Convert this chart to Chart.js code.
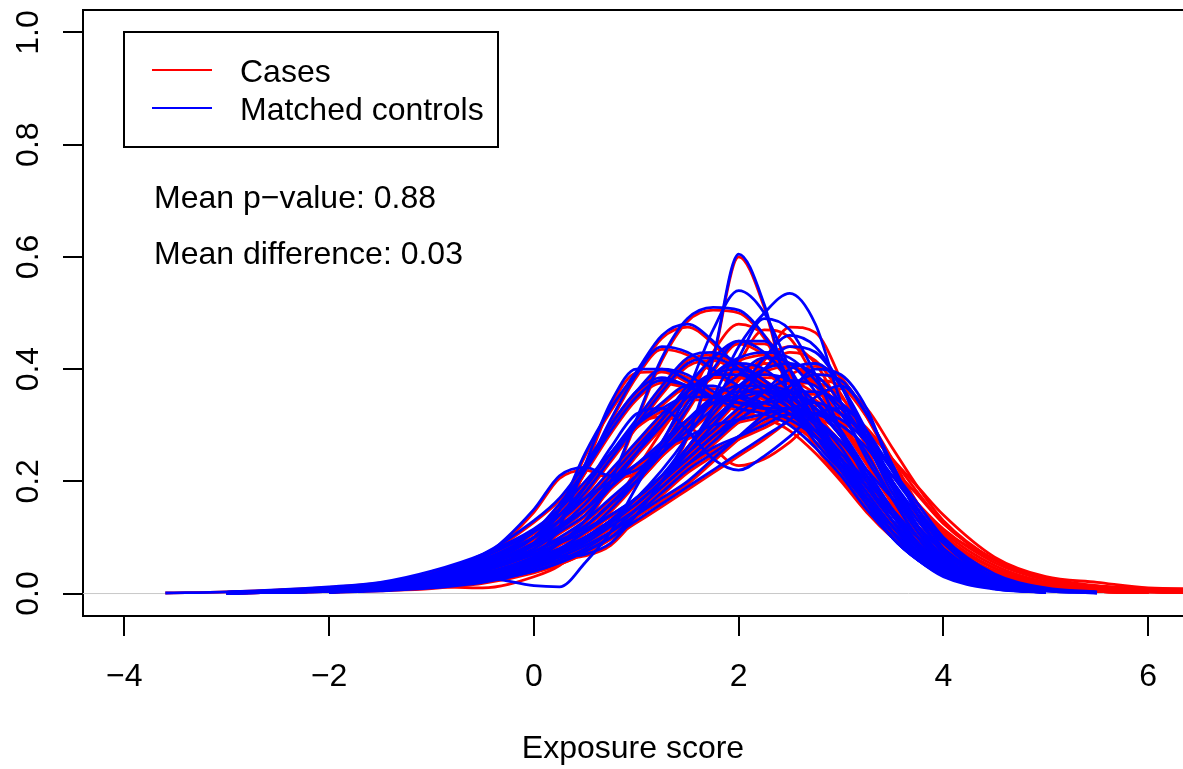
<!DOCTYPE html>
<html>
<head>
<meta charset="utf-8">
<script src="https://cdn.jsdelivr.net/npm/chart.js@4.4.1/dist/chart.umd.min.js"></script>
<style>
  html, body { margin: 0; padding: 0; background: #fff; }
</style>
</head>
<body>
<canvas id="densityChart" width="1183" height="769"></canvas>
<script>
let xGrid = [-3.6, -3, -2, -1.5, -1, -0.5, 0, 0.25, 0.5, 0.75, 1, 1.25, 1.5, 1.75, 2, 2.25, 2.5, 2.75, 3, 3.25, 3.5, 3.75, 4, 4.5, 5, 5.5, 6, 6.5];

// cases (red), one row per curve; row i goes with controlCurves[i]
let casesCurves = [
  [null,null,0.003,0.008,0.019,0.038, 0.072,0.092,0.112,0.137, 0.167,0.207,0.277,0.416, 0.6,0.51,0.345,0.262, 0.205,0.155,0.1,0.068, 0.048,0.025,0.011,0.005,0.003,null],
  [null,0.001,0.005,0.01,0.019,0.038, 0.067,0.087,0.117,0.157, 0.205,0.26,0.34,0.43, 0.48,0.46,0.39,0.3, 0.21,0.15,0.1,0.07, 0.05,0.025,0.012,0.006,0.003,null],
  [null,0.001,0.006,0.012,0.024,0.048, 0.087,0.125,0.18,0.245, 0.3,0.315,0.3,0.26, 0.228,0.24,0.27,0.31, 0.32,0.28,0.2,0.13, 0.08,0.03,0.012,0.005,0.002,null],
  [null,0.001,0.005,0.01,0.019,0.033, 0.062,0.115,0.222,0.333, 0.393,0.395,0.376,0.346, 0.325,0.313,0.29,0.25, 0.2,0.145,0.1,0.065, 0.04,0.018,0.007,0.003,null,null],
  [null,0.002,0.008,0.015,0.03,0.062, 0.145,0.205,0.22,0.206, 0.215,0.255,0.305,0.345, 0.365,0.365,0.345,0.3, 0.24,0.175,0.125,0.085, 0.06,0.028,0.01,0.004,0.002,null],
  [null,0.001,0.005,0.008,0.012,0.01, 0.03,0.05,0.09,0.15, 0.22,0.29,0.35,0.39, 0.415,0.425,0.41,0.37, 0.3,0.23,0.16,0.1, 0.065,0.028,0.01,0.004,0.002,null],
  [null,null,0.004,0.009,0.017,0.033, 0.057,0.077,0.097,0.127, 0.165,0.21,0.26,0.32, 0.38,0.42,0.44,0.41, 0.33,0.24,0.17,0.11, 0.07,0.03,0.012,0.005,0.002,null],
  [null,0.001,0.005,0.01,0.019,0.038, 0.086,0.145,0.245,0.325, 0.39,0.455,0.475,0.445, 0.395,0.355,0.325,0.28, 0.225,0.165,0.11,0.07, 0.045,0.02,0.008,0.003,null,null],
  [null,0.001,0.004,0.008,0.015,0.028, 0.057,0.087,0.126,0.196, 0.305,0.415,0.485,0.505, 0.5,0.455,0.37,0.285, 0.21,0.15,0.1,0.065, 0.04,0.018,0.007,0.003,null,null],
  [null,null,0.004,0.008,0.015,0.028, 0.052,0.072,0.097,0.127, 0.166,0.205,0.255,0.325, 0.41,0.47,0.455,0.38, 0.28,0.195,0.13,0.085, 0.055,0.022,0.009,0.004,0.002,null],
  [null,0.001,0.007,0.014,0.028,0.057, 0.097,0.127,0.166,0.216, 0.265,0.315,0.355,0.385, 0.395,0.38,0.345,0.3, 0.245,0.185,0.13,0.09, 0.06,0.03,0.013,0.006,0.003,0.002],
  [null,null,0.004,0.009,0.017,0.033, 0.062,0.087,0.117,0.156, 0.196,0.245,0.295,0.345, 0.385,0.41,0.405,0.375, 0.31,0.235,0.165,0.11, 0.07,0.035,0.016,0.008,0.004,0.002],
  [0.001,0.003,0.011,0.019,0.038,0.067, 0.11,0.145,0.195,0.245, 0.295,0.335,0.365,0.365, 0.345,0.325,0.305,0.27, 0.23,0.185,0.14,0.1, 0.07,0.035,0.016,0.008,0.004,null],
  [null,null,0.003,0.007,0.013,0.026, 0.052,0.072,0.097,0.126, 0.156,0.195,0.235,0.275, 0.315,0.355,0.39,0.405, 0.385,0.315,0.23,0.15, 0.095,0.04,0.016,0.007,0.003,0.001],
  [null,0.001,0.006,0.011,0.024,0.048, 0.087,0.117,0.147,0.186, 0.226,0.266,0.305,0.335, 0.355,0.355,0.335,0.305, 0.265,0.22,0.18,0.14, 0.11,0.06,0.028,0.014,0.009,0.008],
  [null,0.001,0.006,0.012,0.026,0.052, 0.097,0.146,0.215,0.295, 0.355,0.395,0.385,0.355, 0.335,0.335,0.345,0.33, 0.28,0.21,0.145,0.095, 0.065,0.028,0.011,0.005,0.002,null],
  [null,null,0.005,0.01,0.019,0.038, 0.067,0.087,0.107,0.137, 0.166,0.205,0.245,0.285, 0.325,0.355,0.375,0.375, 0.35,0.29,0.22,0.16, 0.11,0.05,0.02,0.009,0.004,0.002],
  [null,null,0.003,0.006,0.011,0.02, 0.038,0.052,0.072,0.097, 0.136,0.175,0.215,0.245, 0.275,0.305,0.325,0.335, 0.32,0.29,0.24,0.19, 0.14,0.065,0.03,0.02,0.01,0.008],
  [null,0.001,0.004,0.007,0.015,0.028, 0.052,0.062,0.067,0.086, 0.135,0.195,0.255,0.315, 0.365,0.395,0.405,0.38, 0.33,0.265,0.2,0.135, 0.085,0.035,0.013,0.005,0.002,null],
  [null,null,0.002,0.005,0.009,0.018, 0.037,0.052,0.072,0.097, 0.126,0.155,0.185,0.215, 0.245,0.275,0.31,0.35, 0.365,0.33,0.26,0.19, 0.13,0.06,0.025,0.01,0.005,0.003],
  [null,0.001,0.005,0.01,0.021,0.043, 0.077,0.107,0.137,0.186, 0.245,0.305,0.365,0.415, 0.445,0.425,0.38,0.325, 0.26,0.19,0.13,0.09, 0.06,0.025,0.009,0.004,0.002,null],
  [null,null,0.003,0.006,0.011,0.022, 0.042,0.062,0.082,0.107, 0.136,0.165,0.195,0.235, 0.275,0.315,0.355,0.39, 0.38,0.32,0.23,0.16, 0.1,0.045,0.018,0.008,0.004,0.002],
  [null,0.002,0.01,0.017,0.033,0.062, 0.107,0.137,0.166,0.196, 0.226,0.255,0.275,0.295, 0.305,0.315,0.325,0.315, 0.29,0.255,0.21,0.16, 0.115,0.055,0.024,0.011,0.007,0.006],
  [null,0.001,0.007,0.013,0.027,0.052, 0.097,0.137,0.186,0.245, 0.305,0.365,0.415,0.425, 0.405,0.375,0.345,0.305, 0.255,0.195,0.14,0.095, 0.062,0.026,0.01,0.004,0.002,null],
  [null,0.001,0.006,0.011,0.02,0.035, 0.058,0.078,0.098,0.128, 0.167,0.207,0.247,0.296, 0.355,0.415,0.475,0.465, 0.38,0.26,0.17,0.11, 0.07,0.028,0.011,0.005,0.002,null],
  [null,0.002,0.009,0.017,0.034,0.067, 0.127,0.166,0.225,0.295, 0.355,0.38,0.365,0.345, 0.335,0.325,0.305,0.27, 0.22,0.165,0.115,0.075, 0.05,0.022,0.009,0.004,0.002,null],
  [null,null,0.004,0.008,0.015,0.028, 0.057,0.077,0.097,0.126, 0.156,0.195,0.235,0.275, 0.305,0.335,0.355,0.355, 0.335,0.295,0.24,0.18, 0.125,0.06,0.025,0.011,0.006,0.004],
  [null,0.001,0.006,0.011,0.024,0.048, 0.087,0.126,0.176,0.235, 0.295,0.355,0.405,0.415, 0.395,0.365,0.32,0.27, 0.215,0.165,0.12,0.085, 0.06,0.028,0.011,0.005,0.002,null],
  [null,0.001,0.005,0.01,0.019,0.038, 0.072,0.097,0.127,0.166, 0.206,0.245,0.285,0.325, 0.365,0.385,0.38,0.355, 0.3,0.235,0.165,0.11, 0.07,0.032,0.013,0.006,0.003,0.001],
  [null,0.001,0.004,0.008,0.016,0.033, 0.062,0.087,0.117,0.156, 0.196,0.245,0.295,0.335, 0.345,0.335,0.315,0.285, 0.245,0.2,0.155,0.115, 0.08,0.04,0.018,0.009,0.005,0.003],
  [null,null,0.003,0.007,0.013,0.026, 0.047,0.067,0.092,0.121, 0.156,0.195,0.245,0.295, 0.345,0.395,0.43,0.415, 0.355,0.27,0.19,0.12, 0.075,0.03,0.012,0.005,0.002,null],
  [null,0.002,0.008,0.015,0.03,0.057, 0.107,0.156,0.215,0.285, 0.345,0.375,0.365,0.345, 0.345,0.355,0.35,0.32, 0.265,0.2,0.14,0.095, 0.065,0.03,0.012,0.005,0.002,null],
  [null,0.001,0.006,0.011,0.023,0.046, 0.082,0.112,0.147,0.196, 0.245,0.295,0.345,0.385, 0.405,0.395,0.355,0.295, 0.22,0.155,0.105,0.07, 0.05,0.024,0.01,0.004,0.002,null],
  [null,null,0.003,0.006,0.011,0.023, 0.047,0.067,0.092,0.126, 0.166,0.205,0.255,0.305, 0.345,0.365,0.36,0.345, 0.3,0.245,0.18,0.12, 0.078,0.035,0.015,0.007,0.004,0.002],
  [null,0.001,0.007,0.013,0.027,0.052, 0.097,0.146,0.215,0.305, 0.385,0.435,0.425,0.395, 0.365,0.345,0.315,0.27, 0.22,0.165,0.115,0.075, 0.05,0.022,0.009,0.004,0.002,null],
  [null,null,0.003,0.007,0.013,0.026, 0.047,0.067,0.087,0.116, 0.146,0.185,0.225,0.265, 0.305,0.335,0.365,0.38, 0.37,0.315,0.24,0.16, 0.105,0.045,0.018,0.008,0.004,0.002],
  [null,0.002,0.008,0.014,0.029,0.055, 0.097,0.137,0.186,0.245, 0.295,0.325,0.345,0.345, 0.335,0.325,0.325,0.3, 0.26,0.205,0.155,0.105, 0.07,0.03,0.012,0.005,0.002,null],
  [null,null,0.004,0.008,0.015,0.03, 0.057,0.077,0.107,0.146, 0.196,0.255,0.325,0.395, 0.445,0.445,0.395,0.31, 0.23,0.165,0.115,0.075, 0.05,0.022,0.009,0.004,0.002,null],
  [null,null,0.003,0.006,0.011,0.022, 0.042,0.057,0.077,0.106, 0.146,0.185,0.225,0.255, 0.275,0.295,0.315,0.315, 0.305,0.275,0.225,0.175, 0.125,0.06,0.026,0.013,0.008,0.007],
  [null,0.001,0.006,0.011,0.024,0.047, 0.087,0.117,0.156,0.205, 0.255,0.305,0.355,0.385, 0.385,0.365,0.345,0.315, 0.27,0.21,0.15,0.1, 0.065,0.028,0.011,0.005,0.002,null]
];

// matched controls (blue)
let controlCurves = [
  [null,null,0.003,0.008,0.02,0.04, 0.075,0.095,0.115,0.14, 0.17,0.21,0.28,0.42, 0.605,0.515,0.35,0.27, 0.22,0.17,0.11,0.065, 0.035,0.01,0.003,null,null,null],
  [null,0.001,0.005,0.01,0.02,0.04, 0.07,0.09,0.12,0.16, 0.21,0.27,0.36,0.47, 0.54,0.5,0.4,0.3, 0.22,0.16,0.1,0.06, 0.035,0.012,0.004,null,null,null],
  [null,0.001,0.006,0.012,0.025,0.05, 0.09,0.13,0.19,0.26, 0.32,0.33,0.29,0.24, 0.22,0.245,0.28,0.32, 0.33,0.29,0.2,0.12, 0.06,0.015,0.004,null,null,null],
  [null,0.001,0.005,0.01,0.02,0.035, 0.065,0.12,0.23,0.34, 0.4,0.4,0.38,0.35, 0.33,0.32,0.3,0.26, 0.21,0.15,0.1,0.06, 0.03,0.008,0.002,null,null,null],
  [null,0.002,0.008,0.016,0.032,0.065, 0.15,0.21,0.225,0.21, 0.22,0.26,0.31,0.35, 0.37,0.37,0.35,0.31, 0.26,0.19,0.13,0.08, 0.045,0.012,0.003,null,null,null],
  [null,0.001,0.006,0.012,0.02,0.028, 0.014,0.012,0.055,0.11, 0.19,0.27,0.34,0.39, 0.42,0.43,0.42,0.38, 0.32,0.25,0.17,0.1, 0.055,0.015,0.004,null,null,null],
  [null,null,0.004,0.009,0.018,0.035, 0.06,0.08,0.1,0.13, 0.17,0.22,0.28,0.35, 0.44,0.5,0.535,0.48, 0.34,0.24,0.17,0.1, 0.055,0.015,0.004,null,null,null],
  [null,0.001,0.005,0.01,0.02,0.04, 0.09,0.15,0.25,0.33, 0.395,0.46,0.48,0.45, 0.4,0.36,0.33,0.29, 0.24,0.18,0.12,0.07, 0.04,0.01,0.003,null,null,null],
  [null,0.001,0.004,0.008,0.016,0.03, 0.06,0.09,0.13,0.2, 0.31,0.42,0.49,0.51, 0.505,0.46,0.38,0.3, 0.23,0.16,0.1,0.06, 0.032,0.009,0.002,null,null,null],
  [null,null,0.004,0.008,0.016,0.03, 0.055,0.075,0.1,0.13, 0.17,0.21,0.26,0.33, 0.42,0.49,0.47,0.39, 0.29,0.2,0.13,0.075, 0.04,0.01,0.003,null,null,null],
  [null,0.001,0.007,0.015,0.03,0.06, 0.1,0.13,0.17,0.22, 0.27,0.32,0.36,0.39, 0.4,0.38,0.34,0.28, 0.22,0.16,0.11,0.07, 0.04,0.012,0.003,null,null,null],
  [null,null,0.004,0.009,0.018,0.035, 0.065,0.09,0.12,0.16, 0.2,0.25,0.3,0.35, 0.39,0.42,0.41,0.36, 0.29,0.21,0.14,0.085, 0.048,0.014,0.004,null,null,null],
  [0.001,0.003,0.012,0.02,0.04,0.07, 0.115,0.15,0.2,0.25, 0.3,0.34,0.37,0.37, 0.35,0.33,0.31,0.28, 0.24,0.19,0.14,0.09, 0.055,0.018,0.005,0.001,null,null],
  [null,null,0.003,0.007,0.014,0.028, 0.055,0.075,0.1,0.13, 0.16,0.2,0.24,0.28, 0.32,0.36,0.4,0.41, 0.37,0.29,0.2,0.12, 0.065,0.018,0.005,null,null,null],
  [null,0.001,0.006,0.012,0.025,0.05, 0.09,0.12,0.15,0.19, 0.23,0.27,0.31,0.34, 0.36,0.36,0.34,0.31, 0.27,0.22,0.17,0.12, 0.075,0.025,0.007,0.002,null,null],
  [null,0.001,0.006,0.013,0.028,0.055, 0.1,0.15,0.22,0.3, 0.36,0.4,0.39,0.36, 0.34,0.34,0.35,0.34, 0.29,0.22,0.15,0.09, 0.05,0.014,0.004,null,null,null],
  [null,null,0.005,0.01,0.02,0.04, 0.07,0.09,0.11,0.14, 0.17,0.21,0.25,0.29, 0.33,0.36,0.38,0.37, 0.33,0.27,0.2,0.13, 0.08,0.025,0.007,0.002,null,null],
  [null,null,0.003,0.006,0.012,0.022, 0.04,0.055,0.075,0.1, 0.14,0.18,0.22,0.25, 0.28,0.31,0.33,0.34, 0.32,0.28,0.22,0.16, 0.1,0.035,0.01,0.003,null,null],
  [null,0.001,0.004,0.008,0.016,0.03, 0.055,0.065,0.07,0.09, 0.14,0.2,0.26,0.32, 0.37,0.4,0.41,0.39, 0.34,0.27,0.19,0.12, 0.065,0.018,0.004,null,null,null],
  [null,null,0.002,0.005,0.01,0.02, 0.04,0.055,0.075,0.1, 0.13,0.16,0.19,0.22, 0.25,0.28,0.31,0.35, 0.37,0.32,0.23,0.14, 0.07,0.018,0.005,null,null,null],
  [null,0.001,0.005,0.011,0.022,0.045, 0.08,0.11,0.14,0.19, 0.25,0.31,0.37,0.42, 0.45,0.43,0.38,0.31, 0.24,0.17,0.11,0.065, 0.035,0.01,0.003,null,null,null],
  [null,null,0.003,0.006,0.012,0.024, 0.045,0.065,0.085,0.11, 0.14,0.17,0.2,0.24, 0.28,0.32,0.36,0.4, 0.39,0.33,0.22,0.15, 0.08,0.022,0.006,null,null,null],
  [null,0.002,0.01,0.018,0.035,0.065, 0.11,0.14,0.17,0.2, 0.23,0.26,0.28,0.3, 0.31,0.32,0.33,0.32, 0.3,0.26,0.2,0.14, 0.09,0.03,0.008,0.002,null,null],
  [null,0.001,0.007,0.014,0.028,0.055, 0.1,0.14,0.19,0.25, 0.31,0.37,0.42,0.43, 0.41,0.38,0.34,0.29, 0.24,0.18,0.12,0.075, 0.042,0.012,0.003,null,null,null],
  [null,0.001,0.006,0.011,0.02,0.035, 0.06,0.08,0.1,0.13, 0.17,0.21,0.25,0.3, 0.36,0.42,0.46,0.44, 0.37,0.27,0.18,0.11, 0.06,0.015,0.004,null,null,null],
  [null,0.002,0.009,0.018,0.035,0.07, 0.13,0.17,0.23,0.3, 0.36,0.385,0.37,0.35, 0.34,0.33,0.31,0.28, 0.23,0.17,0.11,0.065, 0.035,0.01,0.002,null,null,null],
  [null,null,0.004,0.008,0.016,0.03, 0.06,0.08,0.1,0.13, 0.16,0.2,0.24,0.28, 0.31,0.34,0.36,0.36, 0.34,0.29,0.22,0.15, 0.09,0.025,0.006,null,null,null],
  [null,0.001,0.006,0.012,0.025,0.05, 0.09,0.13,0.18,0.24, 0.3,0.36,0.41,0.42, 0.4,0.37,0.33,0.28, 0.23,0.17,0.12,0.075, 0.042,0.012,0.003,null,null,null],
  [null,0.001,0.005,0.01,0.02,0.04, 0.075,0.1,0.13,0.17, 0.21,0.25,0.29,0.33, 0.37,0.39,0.38,0.34, 0.28,0.21,0.14,0.085, 0.048,0.014,0.004,null,null,null],
  [null,0.001,0.004,0.008,0.017,0.035, 0.065,0.09,0.12,0.16, 0.2,0.25,0.3,0.34, 0.35,0.34,0.32,0.29, 0.25,0.2,0.15,0.1, 0.06,0.02,0.005,0.001,null,null],
  [null,null,0.003,0.007,0.014,0.028, 0.05,0.07,0.095,0.125, 0.16,0.2,0.25,0.3, 0.35,0.4,0.44,0.43, 0.37,0.28,0.19,0.11, 0.06,0.015,0.004,null,null,null],
  [null,0.002,0.008,0.016,0.032,0.06, 0.11,0.16,0.22,0.29, 0.35,0.38,0.37,0.35, 0.35,0.36,0.36,0.33, 0.28,0.21,0.14,0.085, 0.045,0.012,0.003,null,null,null],
  [null,0.001,0.006,0.012,0.024,0.048, 0.085,0.115,0.15,0.2, 0.25,0.3,0.35,0.39, 0.41,0.4,0.36,0.3, 0.23,0.16,0.1,0.06, 0.032,0.009,0.002,null,null,null],
  [null,null,0.003,0.006,0.012,0.025, 0.05,0.07,0.095,0.13, 0.17,0.21,0.26,0.31, 0.35,0.37,0.36,0.33, 0.28,0.22,0.15,0.09, 0.05,0.014,0.004,null,null,null],
  [null,0.001,0.007,0.014,0.028,0.055, 0.1,0.15,0.22,0.31, 0.39,0.44,0.43,0.4, 0.37,0.35,0.32,0.28, 0.23,0.17,0.11,0.065, 0.035,0.01,0.002,null,null,null],
  [null,null,0.003,0.007,0.014,0.028, 0.05,0.07,0.09,0.12, 0.15,0.19,0.23,0.27, 0.31,0.34,0.37,0.39, 0.38,0.32,0.23,0.14, 0.075,0.02,0.005,null,null,null],
  [null,0.002,0.008,0.015,0.03,0.058, 0.1,0.14,0.19,0.25, 0.3,0.33,0.35,0.35, 0.34,0.33,0.33,0.31, 0.27,0.21,0.15,0.09, 0.05,0.014,0.003,null,null,null],
  [null,null,0.004,0.008,0.016,0.032, 0.06,0.08,0.11,0.15, 0.2,0.26,0.33,0.4, 0.45,0.45,0.4,0.32, 0.24,0.17,0.11,0.065, 0.035,0.01,0.002,null,null,null],
  [null,null,0.003,0.006,0.012,0.024, 0.045,0.06,0.08,0.11, 0.15,0.19,0.23,0.26, 0.28,0.3,0.32,0.32, 0.31,0.27,0.21,0.15, 0.095,0.03,0.008,0.002,null,null],
  [null,0.001,0.006,0.012,0.025,0.05, 0.09,0.12,0.16,0.21, 0.26,0.31,0.36,0.39, 0.39,0.37,0.34,0.3, 0.25,0.19,0.13,0.08, 0.045,0.013,0.003,null,null,null]
];

let xTicks = [-4, -2, 0, 2, 4, 6];
let xTickLabels = ['\u22124', '\u22122', '0', '2', '4', '6'];
let yTicks = [0, 0.2, 0.4, 0.6, 0.8, 1.0];
let yTickLabels = ['0.0', '0.2', '0.4', '0.6', '0.8', '1.0'];
let xTitle = 'Exposure score';
let legendLabels = ['Cases', 'Matched controls'];
let seriesColors = ['#ff0000', '#0000ff'];
let statLines = ['Mean p\u2212value: 0.88', 'Mean difference: 0.03'];

let fontFamily = '"Liberation Sans", Arial, Helvetica, sans-serif';
Chart.defaults.font.family = fontFamily;
Chart.defaults.color = '#000';

function buildCurve(ys) {
  let pts = [];
  for (let i = 0; i < xGrid.length; i++) {
    pts.push({x: xGrid[i], y: ys[i]});
  }
  return pts;
}

let datasets = [];
// light grey zero line, drawn under everything
datasets.push({
  data: [{x: -10, y: 0}, {x: 10, y: 0}],
  borderColor: '#c8c8c8',
  borderWidth: 1,
  pointRadius: 0,
  order: 1000,
});
// all case curves first, then all control curves on top
for (let i = 0; i < casesCurves.length; i++) {
  datasets.push({
    data: buildCurve(casesCurves[i]),
    borderColor: seriesColors[0],
    borderWidth: 2.8,
    pointRadius: 0,
    cubicInterpolationMode: 'monotone',
    order: 500 - i,
  });
}
for (let i = 0; i < controlCurves.length; i++) {
  datasets.push({
    data: buildCurve(controlCurves[i]),
    borderColor: seriesColors[1],
    borderWidth: 2.8,
    pointRadius: 0,
    cubicInterpolationMode: 'monotone',
    order: 300 - i,
  });
}

// box, rotated y labels, legend and the two text lines, R style
const rExtras = {
  id: 'rExtras',
  afterDraw(chart) {
    let ctx = chart.ctx;
    let area = chart.chartArea;
    let yScale = chart.scales.y;
    ctx.save();
    ctx.strokeStyle = '#000';
    ctx.lineWidth = 2;
    ctx.beginPath();
    ctx.moveTo(area.left, area.top);
    ctx.lineTo(area.right, area.top);
    ctx.stroke();

    ctx.font = '32px ' + fontFamily;
    ctx.fillStyle = '#000';
    yScale.ticks.forEach(function(t, i) {
      let py = yScale.getPixelForValue(t.value);
      ctx.save();
      ctx.translate(38, py);
      ctx.rotate(-Math.PI / 2);
      ctx.textAlign = 'center';
      ctx.textBaseline = 'alphabetic';
      ctx.fillText(yTickLabels[i], 0, 0);
      ctx.restore();
    });

    // legend
    let lx = area.left + 41;
    let ly = area.top + 22;
    ctx.lineWidth = 2;
    ctx.strokeRect(lx, ly, 374, 115);
    ctx.textAlign = 'left';
    ctx.textBaseline = 'alphabetic';
    for (let i = 0; i < legendLabels.length; i++) {
      let rowY = ly + 38 + i * 38;
      ctx.strokeStyle = seriesColors[i];
      ctx.lineWidth = 2;
      ctx.beginPath();
      ctx.moveTo(lx + 28, rowY);
      ctx.lineTo(lx + 88, rowY);
      ctx.stroke();
      ctx.fillText(legendLabels[i], lx + 116, rowY + 11.5);
    }

    for (let i = 0; i < statLines.length; i++) {
      ctx.fillText(statLines[i], area.left + 71, area.top + 198 + i * 56);
    }
    ctx.restore();
  }
};

new Chart(document.getElementById('densityChart'), {
  type: 'line',
  data: { datasets: datasets },
  options: {
    responsive: false,
    animation: false,
    devicePixelRatio: 1,
    events: [],
    layout: { padding: { top: 10, left: 0, right: 0, bottom: 0 } },
    plugins: {
      legend: { display: false },
      tooltip: { enabled: false },
    },
    scales: {
      x: {
        type: 'linear',
        min: -4.404,
        max: 6.34,
        afterBuildTicks: function(scale) {
          scale.ticks = xTicks.map(function(v) { return {value: v}; });
        },
        afterFit: function(scale) { scale.height = 153; },
        ticks: {
          autoSkip: false,
          maxRotation: 0,
          padding: 22,
          font: { size: 32 },
          color: '#000',
          callback: function(value, index) { return xTickLabels[index]; },
        },
        grid: {
          drawOnChartArea: false,
          tickLength: 20,
          color: '#000',
          lineWidth: 2,
        },
        border: { display: true, color: '#000', width: 2 },
        title: {
          display: true,
          text: xTitle,
          color: '#000',
          font: { size: 32 },
          padding: { top: 0, bottom: 1 },
        },
      },
      y: {
        type: 'linear',
        min: -0.04,
        max: 1.04,
        afterBuildTicks: function(scale) {
          scale.ticks = yTicks.map(function(v) { return {value: v}; });
        },
        afterFit: function(scale) { scale.width = 83; },
        ticks: { display: false },
        grid: {
          drawOnChartArea: false,
          tickLength: 20,
          color: '#000',
          lineWidth: 2,
        },
        border: { display: true, color: '#000', width: 2 },
      },
    },
  },
  plugins: [rExtras],
});
</script>
</body>
</html>
